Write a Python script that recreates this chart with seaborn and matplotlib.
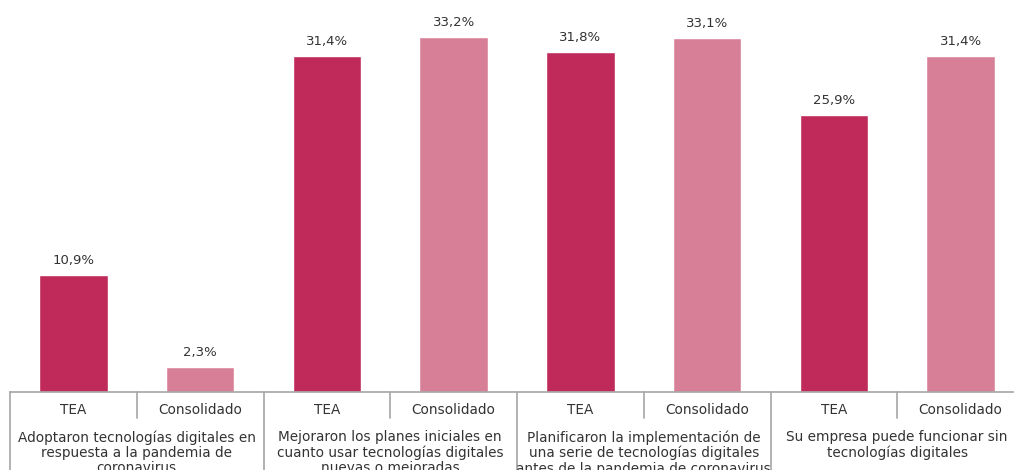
import pandas as pd
import matplotlib.pyplot as plt
import seaborn as sns

# data
groups = [
    "Adoptaron tecnologías digitales en\nrespuesta a la pandemia de\ncoronavirus",
    "Mejoraron los planes iniciales en\ncuanto usar tecnologías digitales\nnuevas o mejoradas",
    "Planificaron la implementación de\nuna serie de tecnologías digitales\nantes de la pandemia de coronavirus",
    "Su empresa puede funcionar sin\ntecnologías digitales",
]
series = ["TEA", "Consolidado"]
tea = [10.9, 31.4, 31.8, 25.9]
consolidado = [2.3, 33.2, 33.1, 31.4]

rows = []
for i, g in enumerate(groups):
    rows.append({"slot": f"{i}-TEA", "tipo": "TEA", "valor": tea[i]})
    rows.append({"slot": f"{i}-Consolidado", "tipo": "Consolidado", "valor": consolidado[i]})
df = pd.DataFrame(rows)

sns.set_theme(style="white")
plt.rcParams["font.family"] = ["DejaVu Sans"]

fig = plt.figure(figsize=(10.14, 4.70), dpi=100)
ax = fig.add_axes([10 / 1014, 78 / 470, 1014 / 1014, 392 / 470])

palette = {"TEA": "#C02A5A", "Consolidado": "#D87F98"}
sns.barplot(data=df, x="slot", y="valor", hue="tipo", palette=palette,
            dodge=False, width=0.54, saturation=1, legend=False, ax=ax)

ax.set_xlim(-0.5, 7.5)
ax.set_ylim(0, 36.67)

for cont in ax.containers:
    ax.bar_label(cont, labels=[f"{b.get_height():.1f}%".replace(".", ",") for b in cont],
                 padding=6, fontsize=9.5, color="#333333")

ax.set_xticks([])
ax.set_yticks([])
ax.set_xlabel("")
ax.set_ylabel("")
sns.despine(ax=ax, left=True, top=True, right=True)
ax.spines["bottom"].set_color("#A6A6A6")
ax.spines["bottom"].set_linewidth(1.2)

trans = ax.get_xaxis_transform()
line_kw = dict(color="#A6A6A6", lw=1.2, transform=trans, clip_on=False)

# sub-category labels and separators
for i, s in enumerate(df["tipo"]):
    ax.text(i, -0.046, s, transform=trans, ha="center", va="center",
            fontsize=9.8, color="#333333")
for k in range(4):
    x = 2 * k + 0.5
    ax.plot([x, x], [0, -0.066], **line_kw)

# group labels and separators
for k, g in enumerate(groups):
    ax.text(2 * k + 0.5, -0.097, g, transform=trans, ha="center", va="top",
            fontsize=9.8, color="#333333", linespacing=1.12)
for k in range(5):
    x = 2 * k - 0.5
    ax.plot([x, x], [0, -0.2], **line_kw)

plt.savefig("out.png", dpi=100)
